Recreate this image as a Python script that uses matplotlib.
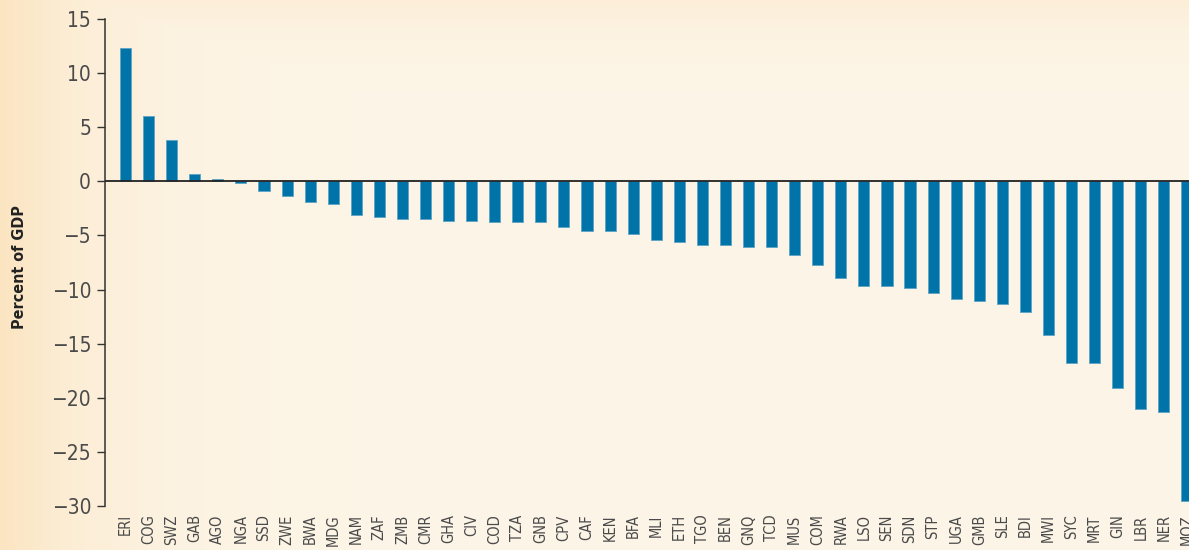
import matplotlib
matplotlib.use("Agg")
import matplotlib.pyplot as plt
import numpy as np

# current account balance, percent of GDP
countries = ["ERI", "COG", "SWZ", "GAB", "AGO", "NGA", "SSD", "ZWE", "BWA", "MDG",
             "NAM", "ZAF", "ZMB", "CMR", "GHA", "CIV", "COD", "TZA", "GNB", "CPV",
             "CAF", "KEN", "BFA", "MLI", "ETH", "TGO", "BEN", "GNQ", "TCD", "MUS",
             "COM", "RWA", "LSO", "SEN", "SDN", "STP", "UGA", "GMB", "SLE", "BDI",
             "MWI", "SYC", "MRT", "GIN", "LBR", "NER", "MOZ"]
values = [12.3, 6.0, 3.8, 0.7, 0.2, -0.2, -0.9, -1.4, -1.9, -2.1,
          -3.1, -3.3, -3.5, -3.5, -3.7, -3.7, -3.8, -3.8, -3.8, -4.2,
          -4.6, -4.6, -4.9, -5.4, -5.6, -5.9, -5.9, -6.1, -6.1, -6.8,
          -7.7, -8.9, -9.7, -9.7, -9.9, -10.3, -10.9, -11.1, -11.3, -12.1,
          -14.2, -16.8, -16.8, -19.1, -21.0, -21.3, -29.5]
yticks = [15, 10, 5, 0, -5, -10, -15, -20, -25, -30]

plt.rcParams["font.family"] = ["DejaVu Sans"]
plt.rcParams["font.stretch"] = "condensed"

fig = plt.figure(figsize=(11.89, 5.5), dpi=100)

# warm background fading from the left edge
h, w = 550, 1189
xx = np.linspace(0, 1, w)[None, :]
yy = np.linspace(0, 1, h)[:, None]
base = np.array([253, 245, 231]) / 255
warm = np.array([251, 228, 192]) / 255
t = np.maximum(np.exp(-xx / 0.08), 0.4 * np.exp(-yy / 0.06))
img = base + (warm - base) * t[..., None]
bg = fig.add_axes([0, 0, 1, 1], zorder=-1)
bg.imshow(img, aspect="auto", extent=[0, 1, 0, 1])
bg.axis("off")

ax = fig.add_axes([0.0883, 0.08, 0.9117, 0.8855])
ax.patch.set_alpha(0)
x = np.arange(len(countries))
ax.bar(x, values, width=0.48, color="#0073a8", edgecolor="#5fa3c4", linewidth=0.6, zorder=2)
ax.axhline(0, color="#222222", lw=1.3, zorder=3)

ax.set_xlim(-0.89, len(countries) - 1 + 0.09)
ax.set_ylim(-30, 15)
ax.set_yticks(yticks)
ax.set_xticks(x)
ax.set_xticklabels(countries, rotation=90, va="top", fontsize=10.5, color="#4a4a4a")
ax.tick_params(axis="x", length=0, pad=6)
ax.tick_params(axis="y", direction="out", length=6, width=1, color="#333333",
               labelsize=15, labelcolor="#4a4a4a", pad=4)
for s in ["top", "right", "bottom"]:
    ax.spines[s].set_visible(False)
ax.spines["left"].set_color("#333333")
ax.spines["left"].set_linewidth(1.1)
ax.set_ylabel("Percent of GDP", fontsize=11.5, fontweight="bold", color="#222222")
ax.yaxis.set_label_coords(-0.072, 0.49)

fig.savefig("out.png", dpi=100)
